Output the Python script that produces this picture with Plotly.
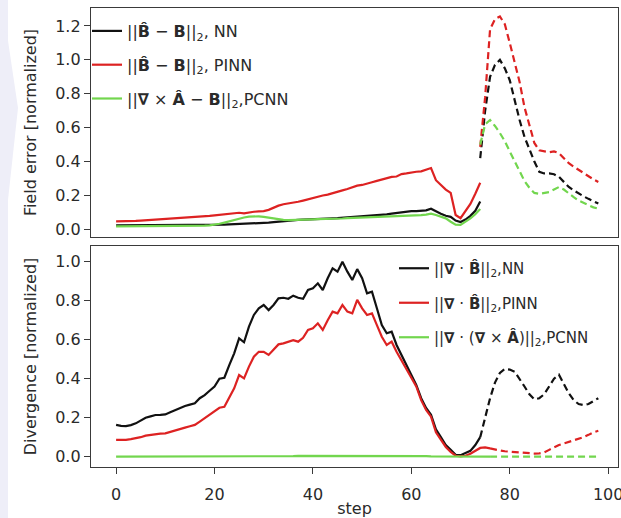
import plotly.graph_objects as go

# ---------------- data ----------------
steps_top_solid = list(range(0, 75))
steps_top_dash = list(range(74, 99))

field_nn = [0.024, 0.024, 0.024, 0.024, 0.024, 0.024, 0.024, 0.024, 0.024, 0.024,
            0.024, 0.024, 0.025, 0.025, 0.025, 0.025, 0.025, 0.025, 0.026, 0.026,
            0.026, 0.027, 0.028, 0.029, 0.030, 0.031, 0.032, 0.033, 0.034, 0.036,
            0.037, 0.040, 0.043, 0.046, 0.050, 0.053, 0.055, 0.056, 0.057, 0.059,
            0.060, 0.062, 0.063, 0.064, 0.065, 0.066, 0.068, 0.069, 0.071, 0.073,
            0.075, 0.077, 0.080, 0.083, 0.086, 0.089, 0.093, 0.097, 0.102, 0.107,
            0.108, 0.108, 0.108, 0.112, 0.122, 0.105, 0.092, 0.080, 0.074, 0.052,
            0.043, 0.058, 0.080, 0.110, 0.165]
field_pinn = [0.047, 0.047, 0.048, 0.049, 0.050, 0.052, 0.054, 0.055, 0.056, 0.057,
              0.058, 0.060, 0.062, 0.064, 0.066, 0.068, 0.070, 0.073, 0.076, 0.080,
              0.083, 0.086, 0.089, 0.091, 0.095, 0.098, 0.094, 0.100, 0.104, 0.106,
              0.108, 0.115, 0.128, 0.140, 0.148, 0.152, 0.158, 0.163, 0.170, 0.178,
              0.184, 0.192, 0.200, 0.205, 0.212, 0.222, 0.230, 0.238, 0.248, 0.258,
              0.262, 0.268, 0.278, 0.286, 0.295, 0.300, 0.310, 0.312, 0.326, 0.330,
              0.336, 0.340, 0.342, 0.350, 0.362, 0.290, 0.262, 0.235, 0.215, 0.085,
              0.066, 0.110, 0.150, 0.210, 0.275]
field_pcnn = [0.018, 0.018, 0.018, 0.018, 0.018, 0.018, 0.018, 0.018, 0.018, 0.018,
              0.018, 0.018, 0.019, 0.019, 0.019, 0.020, 0.020, 0.021, 0.022, 0.024,
              0.027, 0.033, 0.040, 0.048, 0.056, 0.064, 0.070, 0.075, 0.078, 0.077,
              0.074, 0.069, 0.064, 0.059, 0.056, 0.055, 0.055, 0.056, 0.057, 0.058,
              0.059, 0.060, 0.060, 0.061, 0.062, 0.063, 0.064, 0.066, 0.067, 0.068,
              0.070, 0.071, 0.072, 0.074, 0.075, 0.077, 0.078, 0.079, 0.080, 0.081,
              0.082, 0.083, 0.084, 0.087, 0.093, 0.085, 0.075, 0.065, 0.045, 0.028,
              0.026, 0.045, 0.065, 0.090, 0.120]

field_nn_ext = [0.42, 0.70, 0.90, 0.97, 1.00, 0.95, 0.88, 0.76, 0.645, 0.545,
                0.467, 0.40, 0.34, 0.33, 0.33, 0.325, 0.31, 0.28, 0.25, 0.23,
                0.21, 0.195, 0.18, 0.165, 0.152]
field_pinn_ext = [0.487, 0.78, 1.18, 1.24, 1.256, 1.21, 1.10, 0.98, 0.87, 0.72,
                  0.61, 0.51, 0.466, 0.46, 0.455, 0.46, 0.45, 0.42, 0.39, 0.37,
                  0.35, 0.33, 0.31, 0.295, 0.28]
field_pcnn_ext = [0.50, 0.62, 0.645, 0.61, 0.568, 0.52, 0.46, 0.40, 0.34, 0.285,
                  0.245, 0.215, 0.21, 0.215, 0.22, 0.235, 0.25, 0.235, 0.21, 0.19,
                  0.17, 0.155, 0.142, 0.13, 0.122]

steps_div_nn_solid = list(range(0, 75))
steps_div_nn_dash = list(range(74, 99))
steps_div_solid = list(range(0, 77))
steps_div_dash = list(range(76, 99))

div_nn = [0.163, 0.158, 0.157, 0.162, 0.171, 0.185, 0.200, 0.207, 0.214, 0.215,
          0.217, 0.228, 0.240, 0.252, 0.260, 0.267, 0.274, 0.300, 0.316, 0.338,
          0.360, 0.400, 0.405, 0.470, 0.530, 0.607, 0.587, 0.667, 0.727, 0.761,
          0.778, 0.752, 0.778, 0.812, 0.815, 0.810, 0.826, 0.815, 0.810, 0.855,
          0.864, 0.889, 0.855, 0.915, 0.966, 0.949, 1.000, 0.949, 0.906, 0.962,
          0.915, 0.838, 0.846, 0.761, 0.675, 0.633, 0.641, 0.573, 0.520, 0.470,
          0.420, 0.368, 0.300, 0.250, 0.215, 0.140, 0.100, 0.060, 0.035, 0.010,
          0.008, 0.018, 0.030, 0.060, 0.100]
div_pinn = [0.086, 0.085, 0.086, 0.090, 0.094, 0.100, 0.108, 0.112, 0.115, 0.118,
            0.120, 0.128, 0.137, 0.143, 0.149, 0.156, 0.163, 0.180, 0.197, 0.213,
            0.231, 0.251, 0.256, 0.300, 0.351, 0.419, 0.402, 0.462, 0.513, 0.538,
            0.538, 0.522, 0.547, 0.576, 0.581, 0.590, 0.598, 0.590, 0.610, 0.650,
            0.658, 0.684, 0.650, 0.700, 0.744, 0.735, 0.778, 0.744, 0.735, 0.804,
            0.761, 0.727, 0.735, 0.675, 0.615, 0.573, 0.590, 0.538, 0.495, 0.455,
            0.405, 0.360, 0.290, 0.240, 0.205, 0.125, 0.085, 0.050, 0.025, 0.005,
            0.002, 0.005, 0.015, 0.030, 0.045, 0.048, 0.043]
div_pcnn = [0.000, 0.000, 0.000, 0.000, 0.000, 0.000, 0.000, 0.000, 0.000, 0.000,
            0.000, 0.000, 0.000, 0.000, 0.000, 0.000, 0.000, 0.000, 0.000, 0.000,
            0.000, 0.001, 0.001, 0.001, 0.001, 0.001, 0.001, 0.002, 0.002, 0.002,
            0.002, 0.002, 0.003, 0.003, 0.003, 0.003, 0.003, 0.004, 0.004, 0.004,
            0.004, 0.005, 0.005, 0.005, 0.005, 0.005, 0.006, 0.006, 0.006, 0.006,
            0.006, 0.006, 0.006, 0.006, 0.005, 0.005, 0.005, 0.005, 0.004, 0.004,
            0.004, 0.003, 0.003, 0.003, 0.002, 0.002, 0.001, 0.001, 0.000, 0.000,
            0.000, 0.000, 0.000, 0.000, 0.000, 0.000, 0.000]

div_nn_ext = [0.100, 0.200, 0.300, 0.380, 0.430, 0.450, 0.447, 0.436, 0.400, 0.360,
              0.320, 0.294, 0.300, 0.320, 0.360, 0.400, 0.420, 0.370, 0.325, 0.290,
              0.270, 0.265, 0.270, 0.285, 0.300]
div_pinn_ext = [0.043, 0.036, 0.032, 0.028, 0.026, 0.024, 0.021, 0.019, 0.017, 0.016,
                0.017, 0.022, 0.035, 0.048, 0.060, 0.068, 0.076, 0.083, 0.090, 0.100,
                0.112, 0.125, 0.133]
div_pcnn_ext = [0.0] * 23

x_ticks = [0, 20, 40, 60, 80, 100]
field_ticks = [0.0, 0.2, 0.4, 0.6, 0.8, 1.0, 1.2]
div_ticks = [0.0, 0.2, 0.4, 0.6, 0.8, 1.0]

top_names = ["||<b>B\u0302</b> \u2212 <b>B</b>||<sub>2</sub>, NN",
             "||<b>B\u0302</b> \u2212 <b>B</b>||<sub>2</sub>, PINN",
             "||<b>\u2207</b> \u00d7 <b>A\u0302</b> \u2212 <b>B</b>||<sub>2</sub>,PCNN"]
bot_names = ["||<b>\u2207</b> \u00b7 <b>B\u0302</b>||<sub>2</sub>,NN",
             "||<b>\u2207</b> \u00b7 <b>B\u0302</b>||<sub>2</sub>,PINN",
             "||<b>\u2207</b> \u00b7 (<b>\u2207</b> \u00d7 <b>A\u0302</b>)||<sub>2</sub>,PCNN"]

BLACK = "#111111"
RED = "#dd2222"
GREEN = "#72d64e"
FONT = "DejaVu Sans"
LW = 2.2
DASH = "7px,4px"

fig = go.Figure()

# top panel
for i, (y, yext, col) in enumerate([(field_nn, field_nn_ext, BLACK),
                                    (field_pinn, field_pinn_ext, RED),
                                    (field_pcnn, field_pcnn_ext, GREEN)]):
    fig.add_trace(go.Scatter(x=steps_top_solid, y=y, mode="lines", name=top_names[i],
                             line=dict(color=col, width=LW), xaxis="x", yaxis="y",
                             legend="legend", legendgroup="t%d" % i))
    fig.add_trace(go.Scatter(x=steps_top_dash, y=yext, mode="lines", showlegend=False,
                             line=dict(color=col, width=LW, dash=DASH), xaxis="x", yaxis="y"))

# bottom panel
fig.add_trace(go.Scatter(x=steps_div_nn_solid, y=div_nn, mode="lines", name=bot_names[0],
                         line=dict(color=BLACK, width=LW), xaxis="x2", yaxis="y2",
                         legend="legend2", legendgroup="b0"))
fig.add_trace(go.Scatter(x=steps_div_nn_dash, y=div_nn_ext, mode="lines", showlegend=False,
                         line=dict(color=BLACK, width=LW, dash=DASH), xaxis="x2", yaxis="y2"))
fig.add_trace(go.Scatter(x=steps_div_solid, y=div_pinn, mode="lines", name=bot_names[1],
                         line=dict(color=RED, width=LW), xaxis="x2", yaxis="y2",
                         legend="legend2", legendgroup="b1"))
fig.add_trace(go.Scatter(x=steps_div_dash, y=div_pinn_ext, mode="lines", showlegend=False,
                         line=dict(color=RED, width=LW, dash=DASH), xaxis="x2", yaxis="y2"))
fig.add_trace(go.Scatter(x=steps_div_solid, y=div_pcnn, mode="lines", name=bot_names[2],
                         line=dict(color=GREEN, width=LW), xaxis="x2", yaxis="y2",
                         legend="legend2", legendgroup="b2"))
fig.add_trace(go.Scatter(x=steps_div_dash, y=div_pcnn_ext, mode="lines", showlegend=False,
                         line=dict(color=GREEN, width=LW, dash=DASH), xaxis="x2", yaxis="y2"))

W, H = 621, 518
ML, MR, MT, MB = 91, 3, 8, 51
PH = H - MT - MB
PW = W - ML - MR

def py(p):
    return (H - MB - p) / PH

def px(p):
    return (p - ML) / PW

axis_common = dict(showline=True, mirror=True, linecolor="#3a3a3a", linewidth=1.3,
                   ticks="outside", ticklen=6, tickwidth=1.2, tickcolor="#3a3a3a",
                   showgrid=False, zeroline=False,
                   tickfont=dict(family=FONT, size=16, color="#2a2a2a"))

fig.update_layout(
    width=W, height=H,
    margin=dict(l=ML, r=MR, t=MT, b=MB, autoexpand=False),
    paper_bgcolor="white", plot_bgcolor="white",
    font=dict(family=FONT, size=16, color="#2a2a2a"),
    xaxis=dict(axis_common, domain=[0, 1], anchor="y", range=[-5.1, 102],
               showticklabels=False, ticks=""),
    yaxis=dict(axis_common, domain=[py(237), 1], anchor="x", range=[-0.045, 1.306],
               tickvals=field_ticks, tickformat=".1f",
               title=dict(text="Field error [normalized]", standoff=14,
                          font=dict(family=FONT, size=16, color="#2a2a2a"))),
    xaxis2=dict(axis_common, domain=[0, 1], anchor="y2", range=[-5.1, 102],
                tickvals=x_ticks, matches="x", ticklabelstandoff=7,
                ticklabeloverflow="allow",
                title=dict(text="step", standoff=0,
                           font=dict(family=FONT, size=16, color="#2a2a2a"))),
    yaxis2=dict(axis_common, domain=[0, py(246)], anchor="x2", range=[-0.0528, 1.0805],
                tickvals=div_ticks, tickformat=".1f",
                title=dict(text="Divergence [normalized]", standoff=14,
                           font=dict(family=FONT, size=16, color="#2a2a2a"))),
    legend=dict(x=px(87), y=py(14), xanchor="left", yanchor="top",
                bgcolor="rgba(0,0,0,0)", borderwidth=0, itemwidth=30,
                tracegroupgap=10, font=dict(family=FONT, size=16, color="#2a2a2a")),
    legend2=dict(x=px(394), y=py(252), xanchor="left", yanchor="top",
                 bgcolor="rgba(0,0,0,0)", borderwidth=0, itemwidth=30,
                 tracegroupgap=12, font=dict(family=FONT, size=15, color="#2a2a2a")),
    showlegend=True,
    shapes=[
        dict(type="rect", xref="paper", yref="paper", x0=px(0), x1=px(8), y0=py(H), y1=py(0),
             fillcolor="#eeeef8", line=dict(width=0), layer="below"),
        dict(type="path", xref="paper", yref="paper",
             path="M %f,%f L %f,%f L %f,%f L %f,%f L %f,%f Z" % (
                 px(0), py(28), px(7), py(34), px(18), py(108), px(8), py(200), px(0), py(200)),
             fillcolor="#eeeef8", line=dict(width=0), layer="below"),
    ],
)

fig.write_html("out.html")
